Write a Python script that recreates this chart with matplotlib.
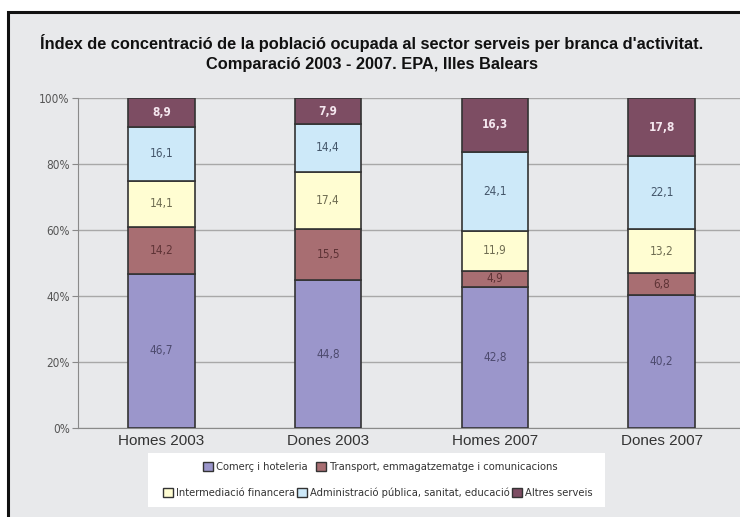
import matplotlib
matplotlib.use("Agg")
import matplotlib.pyplot as plt
from matplotlib.patches import Rectangle, Patch
from matplotlib.font_manager import FontProperties
import numpy as np

categories = ["Homes 2003", "Dones 2003", "Homes 2007", "Dones 2007"]
series_names = ["Comerç i hoteleria",
                "Transport, emmagatzematge i comunicacions",
                "Intermediació financera",
                "Administració pública, sanitat, educació",
                "Altres serveis"]
comerc = [46.7, 44.8, 42.8, 40.2]
transport = [14.2, 15.5, 4.9, 6.8]
intermediacio = [14.1, 17.4, 11.9, 13.2]
administracio = [16.1, 14.4, 24.1, 22.1]
altres = [8.9, 7.9, 16.3, 17.8]
yticks = [0, 20, 40, 60, 80, 100]
ytick_labels = ["0%", "20%", "40%", "60%", "80%", "100%"]
title1 = "Índex de concentració de la població ocupada al sector serveis per branca d'activitat."
title2 = "Comparació 2003 - 2007. EPA, Illes Balears"

colors = ["#9b96cb", "#a86e72", "#fffdd2", "#cde9f9", "#7d4d63"]
label_colors = ["#4d4a6e", "#5e3336", "#6e6c52", "#44566a", "#f4e6ee"]
series = [comerc, transport, intermediacio, administracio, altres]

def narrow(size, weight="normal"):
    return FontProperties(family="DejaVu Sans", stretch="condensed", size=size, weight=weight)

W, H = 740, 517
fig = plt.figure(figsize=(W / 100, H / 100), dpi=100)
fig.patch.set_facecolor("white")

# outer panel with black frame
fig.patches.append(Rectangle((8 / W, -0.02), 1.1, (H - 12) / H + 0.02,
                             transform=fig.transFigure, facecolor="#e8e9eb",
                             edgecolor="#111111", linewidth=2.2, zorder=-10))

ax = fig.add_axes([78 / W, (H - 428) / H, (W - 78) / W, 330 / H])
ax.patch.set_alpha(0)

x = np.arange(len(categories))
bottom = np.zeros(len(categories))
handles = []
for vals, c, lc, name in zip(series, colors, label_colors, series_names):
    vals = np.array(vals)
    ax.bar(x, vals, width=0.4, bottom=bottom, color=c,
           edgecolor="#333333", linewidth=1.2, zorder=3)
    for xi, b, v in zip(x, bottom, vals):
        ax.text(xi, b + v / 2, f"{v:.1f}".replace(".", ","), ha="center",
                va="center", color=lc, zorder=4,
                fontproperties=narrow(8.5, "bold" if lc.startswith("#f") else "normal"))
    handles.append(Patch(facecolor=c, edgecolor="#333333", linewidth=1.0, label=name))
    bottom += vals

ax.set_ylim(0, 100)
ax.set_xlim(-0.5, 3.47)
ax.set_yticks(yticks)
ax.set_yticklabels(ytick_labels, fontproperties=narrow(8.5), color="#555555")
ax.set_xticks(x)
ax.set_xticklabels(categories, family="Liberation Sans", fontsize=11, color="#333333")
ax.tick_params(axis="x", length=0, pad=4)
ax.tick_params(axis="y", length=4, color="#888888", pad=2)
ax.yaxis.grid(True, color="#a8a8a8", linewidth=1.0, zorder=0)
ax.set_axisbelow(True)
for s in ["top", "right"]:
    ax.spines[s].set_visible(False)
ax.spines["left"].set_color("#8a8a8a")
ax.spines["bottom"].set_color("#8a8a8a")

fig.text(372 / W, 1 - 43 / H, title1, ha="center", va="center",
         fontsize=11.8, fontweight="bold", family="Liberation Sans", color="#111111")
fig.text(372 / W, 1 - 64 / H, title2, ha="center", va="center",
         fontsize=11.8, fontweight="bold", family="Liberation Sans", color="#111111")

# legend box
fig.patches.append(Rectangle((148 / W, (H - 507) / H), (605 - 148) / W, 54 / H,
                             transform=fig.transFigure, facecolor="white",
                             edgecolor="none", zorder=1))
leg1 = fig.legend(handles=handles[:2], loc="center", bbox_to_anchor=(380 / W, 1 - 467 / H),
                  ncol=2, frameon=False, handlelength=0.9, handleheight=0.9,
                  handletextpad=0.3, columnspacing=0.8, prop=narrow(8))
leg2 = fig.legend(handles=handles[2:], loc="center", bbox_to_anchor=(378 / W, 1 - 493 / H),
                  ncol=3, frameon=False, handlelength=0.9, handleheight=0.9,
                  handletextpad=0.3, columnspacing=0.15, prop=narrow(8))
for lg in (leg1, leg2):
    for t in lg.get_texts():
        t.set_color("#333333")

fig.savefig("out.png", dpi=100)
